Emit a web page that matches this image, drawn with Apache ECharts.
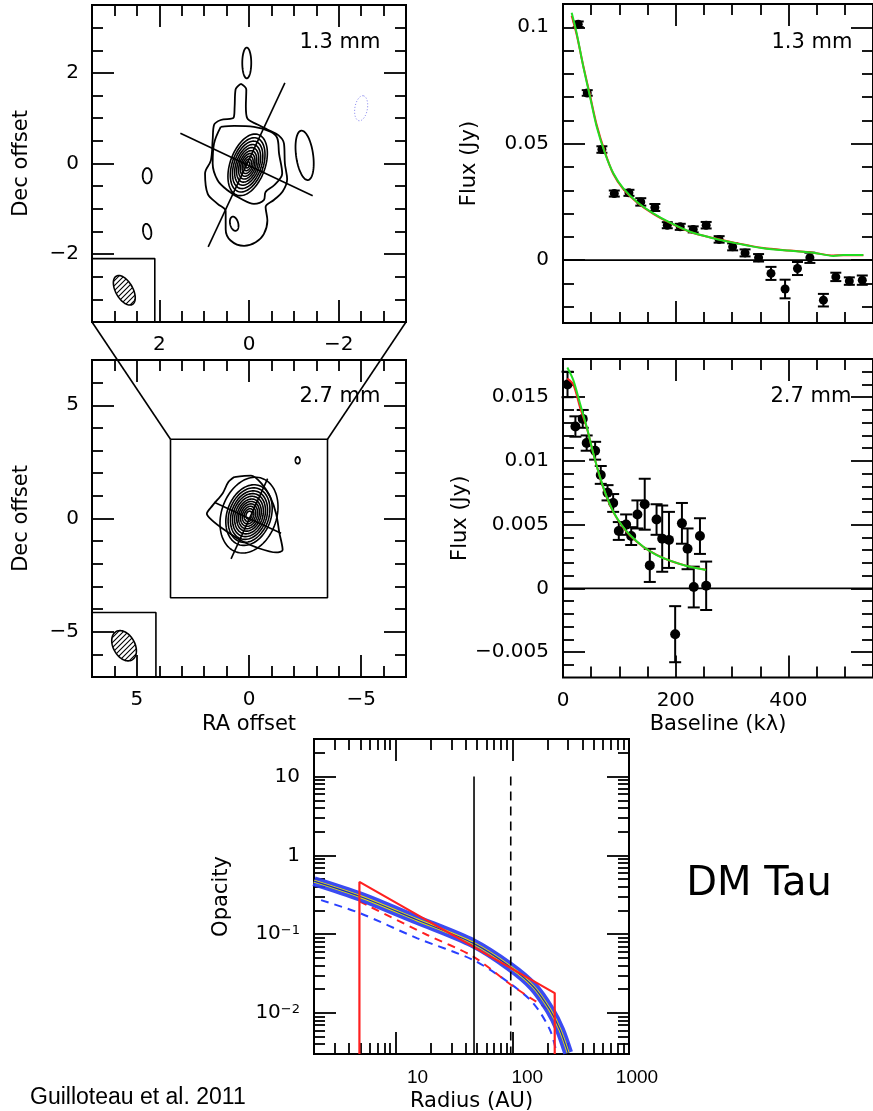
<!DOCTYPE html>
<html><head><meta charset="utf-8">
<script src="https://cdn.jsdelivr.net/npm/echarts@6/dist/echarts.min.js"></script>
<style>html,body{margin:0;padding:0;background:#fff}#c{width:873px;height:1111px}</style>
</head><body><div id="c"></div>
<script>
// ================= DATA =================
// --- 1.3 mm map (RA offset, Dec offset in arcsec) ---
// ellipse contours: [cx, cy, semiMajor, semiMinor, tiltDeg]
const map13Center = [0.03, -0.03];
const map13Core = [0.71, 0.39, 20];
const map13Scales = [1.0, 0.88, 0.77, 0.66, 0.56, 0.46, 0.37, 0.28, 0.19, 0.10];
const map13Outer = [[0.18,1.76],[0.30,1.63],[0.32,1.26],[0.34,1.02],[0.63,0.96],[0.78,0.85],[0.81,0.52],[0.85,0.07],[0.98,-0.22],[0.92,-0.67],[0.70,-0.89],[0.52,-1.05],[0.52,-1.45],[0.41,-1.70],[0.11,-1.82],[-0.15,-1.74],[-0.33,-1.56],[-0.41,-1.26],[-0.37,-0.96],[-0.56,-0.80],[-0.75,-0.62],[-0.85,-0.35],[-0.80,0.0],[-0.78,0.44],[-0.66,0.62],[-0.41,0.75],[-0.19,0.86],[0.04,1.0],[0.07,1.26],[0.06,1.63],[0.18,1.76]];
const map13Level2 = [[0.63,0.81],[0.33,0.83],[-0.11,0.81],[-0.48,0.70],[-0.63,0.56],[-0.67,0.22],[-0.74,-0.22],[-0.56,-0.48],[-0.37,-0.63],[-0.33,-0.81],[-0.11,-0.89],[0.18,-0.78],[0.48,-0.59],[0.70,-0.37],[0.81,0.0],[0.78,0.44],[0.63,0.81]];
const map13Blobs = [[0.05,2.22,0.34,0.10,0],[2.27,-0.27,0.17,0.10,0],[2.27,-1.50,0.17,0.09,-10],[-1.24,0.18,0.55,0.19,-8],[0.33,-1.33,0.16,0.09,-15]];
const map13Neg = [[-2.5,1.22,0.28,0.14,10]];
const map13Major = [[0.91,-1.84],[-0.80,1.78]];
const map13Minor = [[1.53,0.67],[-1.42,-0.71]];
const map13Beam = [[2.78,-2.80,0.36,0.19,-30]];
const map13BeamBox = [[3.5,-2.1],[2.1,-2.1],[2.1,-3.5]];

// --- 2.7 mm map ---
const map27Center = [0.0, 0.15];
const map27Core = [1.38, 0.98, 20];
const map27Scales = [1.25, 1.0, 0.9, 0.8, 0.71, 0.62, 0.53, 0.45, 0.37, 0.29, 0.21, 0.13];
const map27Outer = [[0.66,1.83],[-0.09,1.89],[-0.57,1.53],[-0.95,0.94],[-1.21,0.21],[-1.35,-0.61],[-1.50,-1.39],[-1.21,-1.50],[-0.39,-1.30],[0.36,-0.97],[1.10,-0.50],[1.67,-0.06],[1.88,0.21],[1.62,0.58],[1.17,1.12],[0.92,1.61],[0.66,1.83]];
const map27Blobs = [[-2.17,2.57,0.15,0.10,0]];
const map27Major = [[-0.83,1.76],[0.80,-1.78]];
const map27Minor = [[1.55,0.72],[-1.43,-0.65]];
const map27Beam = [[5.57,-5.62,0.72,0.48,-30]];
const map27BeamBox = [[7,-4.15],[4.15,-4.15],[4.15,-7]];
const zoomBox = [[3.5,3.5],[-3.5,3.5],[-3.5,-3.5],[3.5,-3.5],[3.5,3.5]];

// --- 1.3 mm visibilities (Baseline kλ, Flux Jy) ---
const vis13X = [27,43,69,91,117,138,163,185,208,231,254,277,301,323,347,369,394,416,438,462,484,508,531];
const vis13Y = [0.1013,0.0718,0.0475,0.0286,0.0289,0.0250,0.0226,0.0150,0.0143,0.0132,0.0150,0.0089,0.0057,0.0031,0.0010,-0.0057,-0.0124,-0.0036,0.0010,-0.0172,-0.0072,-0.0090,-0.0086];
const vis13E = [0.0012,0.0012,0.0014,0.0013,0.0013,0.0016,0.0015,0.0013,0.0013,0.0013,0.0014,0.0014,0.0015,0.0015,0.0016,0.0028,0.0040,0.0028,0.0022,0.0027,0.0018,0.0016,0.0020];
const model13X = [15.4,24.3,36,47.9,59.8,74.5,89.3,107,130.8,160.2,189.9,225.4,266.7,308,355.4,402.8,444,479.6,497.4,532.9];
const model13Green = [0.1062,0.0974,0.0831,0.0702,0.0573,0.0459,0.0373,0.0308,0.0251,0.0201,0.0161,0.0122,0.0094,0.0072,0.0051,0.0040,0.0032,0.0018,0.0022,0.0022];
const model13Red = [0.1050,0.0968,0.0834,0.0708,0.0580,0.0463,0.0370,0.0305,0.0249,0.0199,0.0160,0.0121,0.0095,0.0073,0.0052,0.0041,0.0032,0.0020,0.0021,0.0021];

// --- 2.7 mm visibilities ---
const vis27X = [8,22,35,42,57,67,79,89,99,112,121,132,145,154,166,176,188,199,211,221,232,243,254];
const vis27Y = [0.0160,0.0127,0.0133,0.0114,0.0108,0.0089,0.0075,0.0067,0.0045,0.0050,0.0041,0.0058,0.0066,0.0018,0.0054,0.0039,0.0038,-0.0036,0.0051,0.0031,0.0001,0.0041,0.0002];
const vis27E = [0.0010,0.0008,0.0007,0.0006,0.0007,0.0007,0.0006,0.0007,0.0007,0.0008,0.0007,0.0011,0.0020,0.0013,0.0012,0.0026,0.0022,0.0022,0.0016,0.0016,0.0016,0.0014,0.0019];
const model27X = [7.7,18.3,30.2,42,53.8,65.6,77.5,89.3,104,118.9,142.5,166.2,189.9,219.5,253.7];
const model27Green = [0.01733,0.01634,0.01451,0.01268,0.01059,0.00875,0.00719,0.00601,0.00497,0.00418,0.00326,0.00261,0.00217,0.00175,0.00144];
const model27Red = [0.01647,0.01600,0.01420,0.01262,0.01058,0.00872,0.00716,0.00598,0.00494,0.00415,0.00325,0.00262,0.00216,0.00176,0.00145];

// --- Opacity vs radius ---
const bandR = [2.0,4.96,15.2,46,95,151,210,256,301];
const bandTau = [0.47,0.30,0.152,0.0767,0.0388,0.0216,0.0109,0.0061,0.0031];
const blueDashR = [2.3,4.96,15.2,46,95,151,210,240];
const blueDashTau = [0.27,0.184,0.089,0.047,0.0238,0.0133,0.0061,0.0031];
const redDashR = [4.9,18.5,46,102,196,224];
const redDashTau = [0.26,0.098,0.052,0.0216,0.0115,0.0104];
const redSolidR = [4.9,4.9,231,231];
const redSolidTau = [0.003,0.46,0.0178,0.003];
const vSolidR = 47, vDashR = 97;

// ticks / labels
const t13Major = [-2,0,2], t13Minor = [-3,-2.5,-1.5,-1,-0.5,0.5,1,1.5,2.5,3];
const t27Major = [-5,0,5], t27Minor = [-6,-4,-3,-2,-1,1,2,3,4,6];
const blMajor = [0,200,400], blMinor = [50,100,150,250,300,350,450,500];
const f13Major = [0,0.05,0.1], f13Minor = [-0.02,-0.01,0.01,0.02,0.03,0.04,0.06,0.07,0.08,0.09];
const f27Major = [-0.005,0,0.005,0.01,0.015], f27Minor = [-0.006,-0.004,-0.003,-0.002,-0.001,0.001,0.002,0.003,0.004,0.006,0.007,0.008,0.009,0.011,0.012,0.013,0.014,0.016,0.017];
const rMajor = [10,100,1000], rMinor = [3,4,5,6,7,8,9,20,30,40,50,60,70,80,90,200,300,400,500,600,700,800,900];
const tauMajor = [0.01,0.1,1,10], tauMinor = [0.004,0.005,0.006,0.007,0.008,0.009,0.02,0.03,0.04,0.05,0.06,0.07,0.08,0.09,0.2,0.3,0.4,0.5,0.6,0.7,0.8,0.9,2,3,4,5,6,7,8,9,20];

// ================= CHART =================
const FONT = 'DejaVu Sans';
const xAxes = [], yAxes = [];
function addAxis(list, base, pos, len, ticks, label, name) {
  const ax = Object.assign({}, base, {
    position: pos, offset: 0, silent: true,
    axisLine: {show: false, onZero: false},
    splitLine: {show: false}, splitArea: {show: false},
    minorTick: {show: false}, minorSplitLine: {show: false},
    axisPointer: {show: false},
    axisTick: {show: true, inside: true, length: len, lineStyle: {color: '#000', width: 1.8}, customValues: ticks},
    axisLabel: label ? Object.assign({show: true, color: '#000', fontFamily: FONT, fontSize: 20}, label) : {show: false}
  });
  if (name) Object.assign(ax, {name: name.text, nameLocation: 'middle', nameGap: name.gap, nameRotate: name.rotate || 0,
    nameTextStyle: {color: '#000', fontFamily: FONT, fontSize: 21}});
  list.push(ax); return list.length - 1;
}
function panelAxes(g, X, Y) {
  const bx = {type: X.type || 'value', gridIndex: g, min: X.min, max: X.max, inverse: !!X.inverse};
  const by = {type: Y.type || 'value', gridIndex: g, min: Y.min, max: Y.max};
  if (bx.type === 'log') bx.logBase = 10;
  if (by.type === 'log') by.logBase = 10;
  const xi = addAxis(xAxes, bx, 'bottom', 22, X.major, X.label, X.name);
  addAxis(xAxes, bx, 'bottom', 11, X.minor);
  addAxis(xAxes, bx, 'top', 22, X.major);
  addAxis(xAxes, bx, 'top', 11, X.minor);
  const yi = addAxis(yAxes, by, 'left', 22, Y.major, Y.label, Y.name);
  addAxis(yAxes, by, 'left', 11, Y.minor);
  addAxis(yAxes, by, 'right', 22, Y.major);
  addAxis(yAxes, by, 'right', 11, Y.minor);
  return {x: xi, y: yi};
}
const minus = v => (v < 0 ? '\u2212' + String(-v) : String(v));

const A0 = panelAxes(0,
  {min: -3.5, max: 3.5, inverse: true, major: t13Major, minor: t13Minor, label: {customValues: t13Major, formatter: minus, margin: 13}},
  {min: -3.5, max: 3.5, major: t13Major, minor: t13Minor, label: {customValues: t13Major, formatter: minus, margin: 13}, name: {text: 'Dec offset', gap: 60, rotate: 90}});
const A1 = panelAxes(1,
  {min: -7, max: 7, inverse: true, major: t27Major, minor: t27Minor, label: {customValues: t27Major, formatter: minus, margin: 13}, name: {text: 'RA offset', gap: 37}},
  {min: -7, max: 7, major: t27Major, minor: t27Minor, label: {customValues: t27Major, formatter: minus, margin: 13}, name: {text: 'Dec offset', gap: 60, rotate: 90}});
const A2 = panelAxes(2,
  {min: 0, max: 550, major: blMajor, minor: blMinor},
  {min: -0.027, max: 0.11, major: f13Major, minor: f13Minor, label: {customValues: f13Major, formatter: minus, margin: 14}, name: {text: 'Flux (Jy)', gap: 83, rotate: 90}});
const A3 = panelAxes(3,
  {min: 0, max: 550, major: blMajor, minor: blMinor, label: {customValues: blMajor, formatter: v => String(v), margin: 13}, name: {text: 'Baseline (k\u03bb)', gap: 37}},
  {min: -0.007, max: 0.018, major: f27Major, minor: f27Minor, label: {customValues: f27Major, formatter: minus, margin: 14}, name: {text: 'Flux (Jy)', gap: 83, rotate: 90}});
const rLab = {fontFamily: 'Liberation Sans', fontSize: 19, color: '#000'};
const A4 = panelAxes(4,
  {type: 'log', min: 2, max: 1000, major: rMajor, minor: rMinor,
   label: {customValues: rMajor, margin: 14,
     formatter: v => { const e = Math.round(Math.log10(v)); return (e === 1 ? '{a|' : e === 2 ? '{c|' : '{d|') + String(Math.pow(10, e)) + '}'; },
     rich: {a: Object.assign({padding: [0, 0, 0, 44]}, rLab), c: Object.assign({padding: [0, 0, 0, 30]}, rLab), d: Object.assign({padding: [0, 0, 0, 16]}, rLab)}},
   name: {text: 'Radius (AU)', gap: 37}},
  {type: 'log', min: 0.003, max: 30, major: tauMajor, minor: tauMinor,
   label: {customValues: tauMajor, margin: 14,
     formatter: v => { const e = Math.round(Math.log10(v)); return e === 1 ? '{b|10}' : e === 0 ? '{b|1}' : '{b|10}{s|\u2212' + (-e) + '}'; },
     rich: {b: {fontFamily: FONT, fontSize: 20, color: '#000'}, s: {fontFamily: FONT, fontSize: 13, color: '#000', verticalAlign: 'top'}}},
   name: {text: 'Opacity', gap: 82, rotate: 90}});

// hatch pattern for beams
const hc = document.createElement('canvas'); hc.width = 5; hc.height = 5;
const hx = hc.getContext('2d'); hx.strokeStyle = '#000'; hx.lineWidth = 1.1;
hx.beginPath(); hx.moveTo(0, 5); hx.lineTo(5, 0); hx.moveTo(-1, 1); hx.lineTo(1, -1); hx.moveTo(4, 6); hx.lineTo(6, 4); hx.stroke();
const hatch = {image: hc, repeat: 'repeat'};

function ellipses(ax, items, style) {
  return {type: 'custom', xAxisIndex: ax.x, yAxisIndex: ax.y, data: items, silent: true, animation: false,
    renderItem: (params, api) => {
      const cx = api.value(0), cy = api.value(1), a = api.value(2), b = api.value(3), t = api.value(4) * Math.PI / 180;
      const pts = [];
      for (let k = 0; k < 90; k++) {
        const p = k / 90 * 2 * Math.PI, u = a * Math.cos(p), v = b * Math.sin(p);
        pts.push(api.coord([cx - u * Math.sin(t) + v * Math.cos(t), cy + u * Math.cos(t) + v * Math.sin(t)]));
      }
      return {type: 'polygon', shape: {points: pts}, style: Object.assign({}, style)};
    }};
}
function core(center, c, scales) { return scales.map(s => [center[0], center[1], c[0] * s, c[1] * s, c[2]]); }
function line(ax, data, color, width, extra) {
  return Object.assign({type: 'line', xAxisIndex: ax.x, yAxisIndex: ax.y, data: data, symbol: 'none', showSymbol: false,
    silent: true, animation: false, lineStyle: {color: color, width: width}}, extra || {});
}
function zip(xs, ys) { return xs.map((x, i) => [x, ys[i]]); }
function errbars(ax, xs, ys, es, cap) {
  return {type: 'custom', xAxisIndex: ax.x, yAxisIndex: ax.y, data: xs.map((x, i) => [x, ys[i], es[i]]), silent: true, animation: false,
    renderItem: (params, api) => {
      const x = api.value(0), y = api.value(1), e = api.value(2);
      const p1 = api.coord([x, y + e]), p2 = api.coord([x, y - e]);
      const st = {stroke: '#000', lineWidth: 2};
      return {type: 'group', children: [
        {type: 'line', shape: {x1: p1[0], y1: p1[1], x2: p2[0], y2: p2[1]}, style: st},
        {type: 'line', shape: {x1: p1[0] - cap, y1: p1[1], x2: p1[0] + cap, y2: p1[1]}, style: st},
        {type: 'line', shape: {x1: p2[0] - cap, y1: p2[1], x2: p2[0] + cap, y2: p2[1]}, style: st}]};
    }};
}
function dots(ax, xs, ys, size) {
  return {type: 'scatter', xAxisIndex: ax.x, yAxisIndex: ax.y, data: zip(xs, ys), symbolSize: size, silent: true, animation: false,
    itemStyle: {color: '#000', opacity: 1}};
}
const cont = {fill: 'none', stroke: '#000', lineWidth: 1.6};
const series = [
  // 1.3 mm map
  ellipses(A0, core(map13Center, map13Core, map13Scales), cont),
  line(A0, map13Outer, '#000', 1.8, {smooth: 0.35}),
  line(A0, map13Level2, '#000', 1.8, {smooth: 0.35}),
  ellipses(A0, map13Blobs, {fill: 'none', stroke: '#000', lineWidth: 1.8}),
  ellipses(A0, map13Neg, {fill: 'none', stroke: '#7777ee', lineWidth: 1, lineDash: [1, 2]}),
  line(A0, map13Major, '#000', 1.6), line(A0, map13Minor, '#000', 1.6),
  line(A0, map13BeamBox, '#000', 1.6),
  ellipses(A0, map13Beam, {fill: hatch, stroke: '#000', lineWidth: 1.6}),
  // 2.7 mm map
  ellipses(A1, core(map27Center, map27Core, map27Scales), cont),
  line(A1, map27Outer, '#000', 1.8, {smooth: 0.3}),
  ellipses(A1, map27Blobs, {fill: 'none', stroke: '#000', lineWidth: 1.8}),
  line(A1, map27Major, '#000', 1.6), line(A1, map27Minor, '#000', 1.6),
  line(A1, map27BeamBox, '#000', 1.6),
  line(A1, zoomBox, '#000', 1.6),
  ellipses(A1, map27Beam, {fill: hatch, stroke: '#000', lineWidth: 1.6}),
  // 1.3 mm visibilities
  line(A2, [[0, 0], [550, 0]], '#000', 1.8),
  errbars(A2, vis13X, vis13Y, vis13E, 5.5),
  dots(A2, vis13X, vis13Y, 9),
  line(A2, zip(model13X, model13Red), '#ff2020', 2, {smooth: 0.3}),
  line(A2, zip(model13X, model13Green), '#22dd22', 2, {smooth: 0.3}),
  // 2.7 mm visibilities
  line(A3, [[0, 0], [550, 0]], '#000', 1.8),
  errbars(A3, vis27X, vis27Y, vis27E, 6),
  dots(A3, vis27X, vis27Y, 10),
  line(A3, zip(model27X, model27Red), '#ff2020', 2, {smooth: 0.3}),
  line(A3, zip(model27X, model27Green), '#22dd22', 2, {smooth: 0.3}),
  // opacity
  line(A4, zip(blueDashR, blueDashTau), '#2a40ff', 2, {smooth: 0.3, lineStyle: {color: '#2a40ff', width: 2, type: [8, 6]}}),
  line(A4, zip(redDashR, redDashTau), '#ff2020', 2, {smooth: 0.3, lineStyle: {color: '#ff2020', width: 2, type: [8, 6]}}),
  line(A4, zip(bandR, bandTau), '#2a3cf0', 10, {smooth: 0.3, lineStyle: {color: '#2a3cf0', width: 10, opacity: 0.92}}),
  line(A4, zip(bandR, bandTau), '#e8e800', 3, {smooth: 0.3}),
  line(A4, zip(bandR, bandTau), '#1424c8', 1.2, {smooth: 0.3}),
  line(A4, zip(redSolidR, redSolidTau), '#ff2020', 2.2),
  line(A4, [[vSolidR, 10], [vSolidR, 0.003]], '#000', 1.6),
  line(A4, [[vDashR, 10], [vDashR, 0.003]], '#000', 1.6, {lineStyle: {color: '#000', width: 1.6, type: [9, 6]}})
];
const gridBase = {show: true, borderColor: '#000', borderWidth: 2, backgroundColor: 'transparent', containLabel: false, outerBoundsMode: 'none'};
const chart = echarts.init(document.getElementById('c'), null, {renderer: 'canvas'});
chart.setOption({
  animation: false, backgroundColor: '#fff',
  grid: [
    Object.assign({left: 92, top: 5, width: 314, height: 317}, gridBase),
    Object.assign({left: 92, top: 360, width: 314, height: 317}, gridBase),
    Object.assign({left: 563, top: 4, width: 310, height: 319}, gridBase),
    Object.assign({left: 563, top: 359, width: 310, height: 318.5}, gridBase),
    Object.assign({left: 314, top: 739, width: 315, height: 315}, gridBase)
  ],
  xAxis: xAxes, yAxis: yAxes, series: series
});
// annotations
function txt(x, y, s, size, fam, align) {
  return {type: 'text', x: x, y: y, z: 100, silent: true,
    style: {text: s, fill: '#000', fontSize: size, fontFamily: fam || FONT, align: align || 'center', textAlign: align || 'center', verticalAlign: 'middle', textVerticalAlign: 'middle'}};
}
const pa = chart.convertToPixel({xAxisIndex: A0.x, yAxisIndex: A0.y}, [3.5, -3.5]);
const pb = chart.convertToPixel({xAxisIndex: A0.x, yAxisIndex: A0.y}, [-3.5, -3.5]);
const pc = chart.convertToPixel({xAxisIndex: A1.x, yAxisIndex: A1.y}, [3.5, 3.5]);
const pd = chart.convertToPixel({xAxisIndex: A1.x, yAxisIndex: A1.y}, [-3.5, 3.5]);
const ls = {stroke: '#000', lineWidth: 1.6};
chart.setOption({graphic: {elements: [
  {type: 'line', z: 90, silent: true, shape: {x1: pa[0], y1: pa[1], x2: pc[0], y2: pc[1]}, style: ls},
  {type: 'line', z: 90, silent: true, shape: {x1: pb[0], y1: pb[1], x2: pd[0], y2: pd[1]}, style: ls},
  txt(340, 43, '1.3 mm', 21), txt(340, 397, '2.7 mm', 21),
  txt(812, 43, '1.3 mm', 21), txt(811, 397, '2.7 mm', 21),
  txt(759, 885, 'DM Tau', 40),
  txt(30, 1098, 'Guilloteau et al. 2011', 23, 'Liberation Sans', 'left')
]}});
</script></body></html>
